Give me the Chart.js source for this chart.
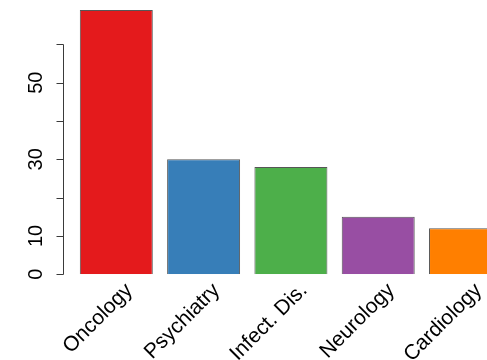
<!DOCTYPE html>
<html>
<head>
<meta charset="utf-8">
<script src="https://cdn.jsdelivr.net/npm/chart.js@4/dist/chart.umd.min.js"></script>
<style>
  html, body { margin: 0; padding: 0; background: #ffffff; }
  canvas { display: block; }
</style>
</head>
<body>
<canvas id="chart" width="487" height="360"></canvas>
<script>
// Cases per specialty
const categories = ['Oncology', 'Psychiatry', 'Infect. Dis.', 'Neurology', 'Cardiology'];
const counts = [69, 30, 28, 15, 12];
const barColors = ['#E41A1C', '#377EB8', '#4DAF4A', '#984EA3', '#FF7F00'];

// Left axis ticks (every 10) and the labels printed beside them
const yTickValues = [0, 10, 20, 30, 40, 50, 60];
const yTickLabels = ['0', '10', '', '30', '', '50', ''];

const FAMILY = "'Liberation Sans', Arial, Helvetica, sans-serif";

// Base-graphics style y axis: a line that stops at the last tick, with outward tick marks
const leftAxis = {
  id: 'leftAxis',
  afterDraw(chart) {
    const y = chart.scales.y;
    const ctx = chart.ctx;
    const x0 = 63.5;
    const top = Math.round(y.getPixelForValue(yTickValues[yTickValues.length - 1])) + 0.5;
    const bottom = Math.round(y.getPixelForValue(yTickValues[0])) + 0.5;
    ctx.save();
    ctx.strokeStyle = '#3a3a3a';
    ctx.lineWidth = 1;
    ctx.beginPath();
    ctx.moveTo(x0, top);
    ctx.lineTo(x0, bottom);
    yTickValues.forEach(v => {
      const p = Math.round(y.getPixelForValue(v)) + 0.5;
      ctx.moveTo(x0, p);
      ctx.lineTo(x0 - 7, p);
    });
    ctx.stroke();
    ctx.restore();
  }
};

new Chart(document.getElementById('chart'), {
  type: 'bar',
  data: {
    datasets: [{
      data: counts.map((v, i) => ({ x: i, y: v })),
      backgroundColor: barColors,
      borderColor: 'rgba(30,30,30,0.75)',
      borderWidth: 1,
      barPercentage: 0.836,
      categoryPercentage: 1
    }]
  },
  options: {
    responsive: false,
    animation: false,
    layout: { padding: 0 },
    plugins: { legend: { display: false }, tooltip: { enabled: false } },
    scales: {
      x: {
        type: 'linear',
        offset: false,
        min: -0.5,
        max: 4.246,
        grid: { display: false, drawTicks: false, offset: false },
        border: { display: false },
        afterBuildTicks(scale) {
          scale.ticks = categories.map((_, i) => ({ value: i }));
        },
        afterFit(scale) {
          scale.height = 85.8;
          scale.paddingLeft = 0;
          scale.paddingRight = 0;
        },
        ticks: {
          autoSkip: false,
          minRotation: 45,
          maxRotation: 45,
          padding: 4,
          labelOffset: 13,
          color: '#000000',
          font: { family: FAMILY, size: 21 },
          callback: (v) => categories[v]
        }
      },
      y: {
        min: 0,
        max: 71.6,
        grid: { display: false, drawTicks: false },
        border: { display: false },
        afterBuildTicks(scale) {
          scale.ticks = yTickValues.map(v => ({ value: v }));
        },
        afterFit(scale) {
          scale.width = 72.65;
          scale.paddingTop = 0;
          scale.paddingBottom = 0;
        },
        ticks: {
          minRotation: 90,
          maxRotation: 90,
          crossAlign: 'center',
          padding: 25,
          color: '#000000',
          font: { family: FAMILY, size: 20 },
          callback: (v, i) => yTickLabels[i]
        }
      }
    }
  },
  plugins: [leftAxis]
});
</script>
</body>
</html>
